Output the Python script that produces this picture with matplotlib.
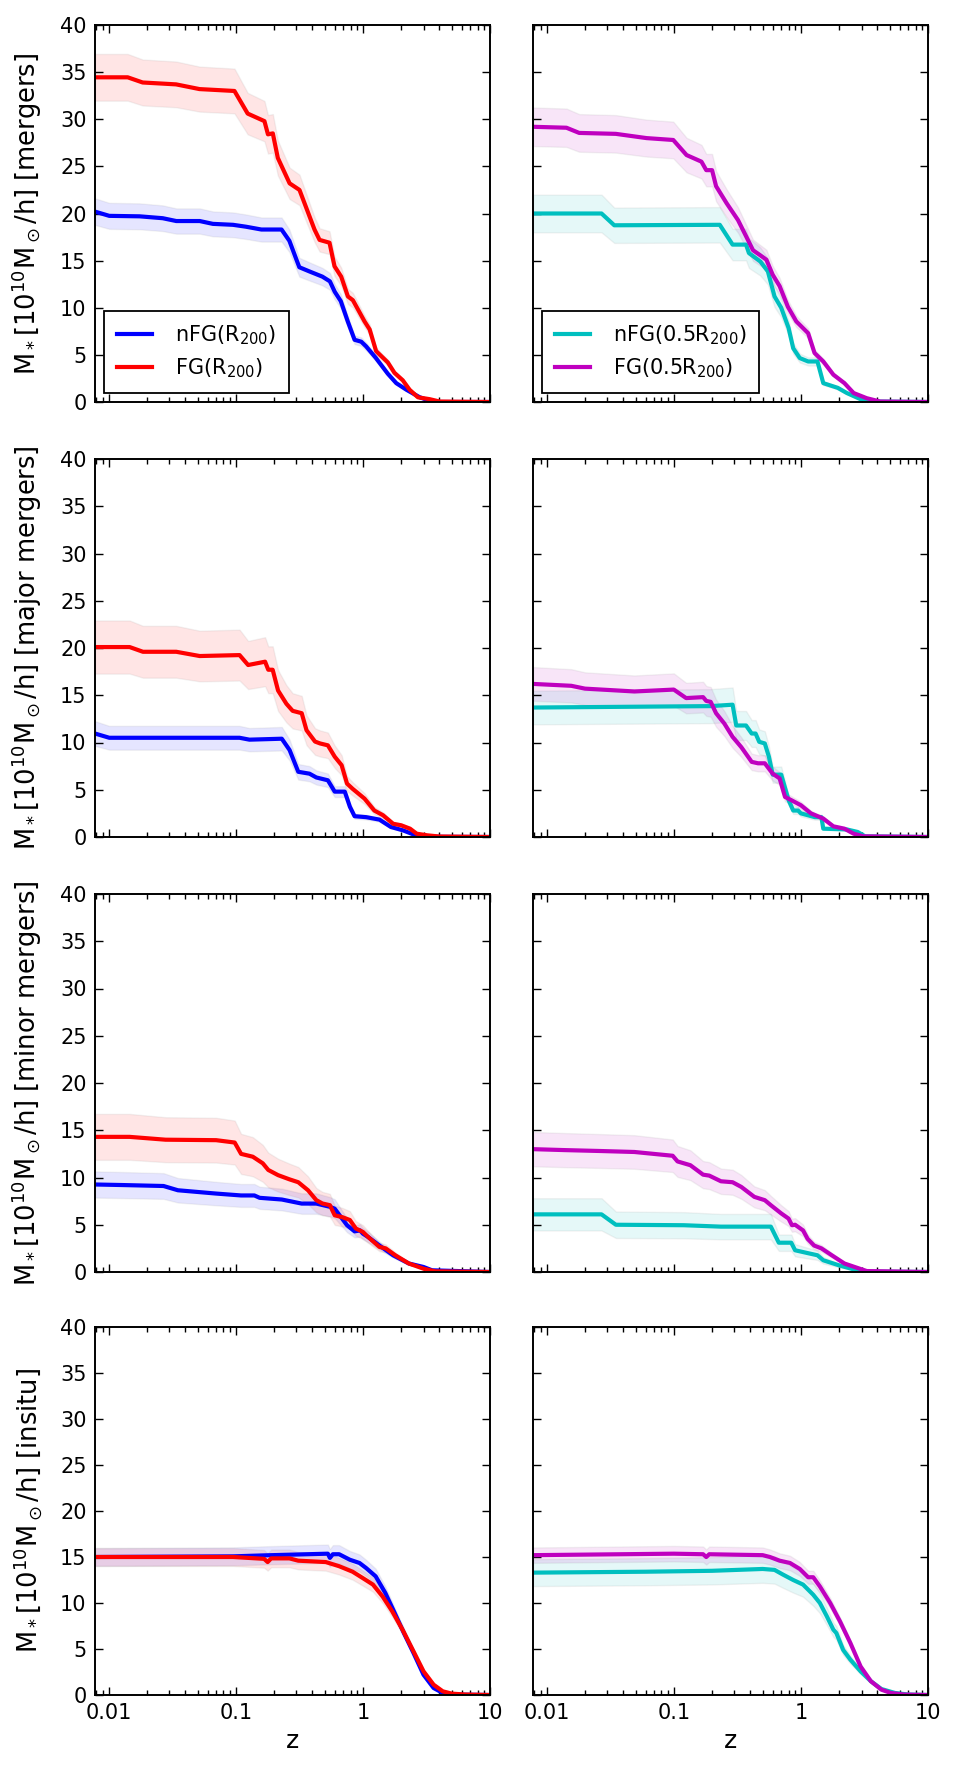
import matplotlib
matplotlib.use("Agg")
import matplotlib.pyplot as plt

plt.rcParams['font.family'] = ['DejaVu Sans']
plt.rcParams['mathtext.fontset'] = 'dejavusans'
plt.rcParams['mathtext.default'] = 'regular'

# ---- data (z, M*) ----
# row 1: all mergers
z_mrg_nfg = [0.0078, 0.0101, 0.0175, 0.0266, 0.034, 0.052, 0.066, 0.095, 0.12, 0.159, 0.229, 0.264, 0.30,
             0.316, 0.38, 0.48, 0.55, 0.60, 0.67, 0.76, 0.86, 0.97, 1.06, 1.26, 1.57, 1.83, 2.2, 2.8, 3.4, 4.0, 10]
m_mrg_nfg = [20.2, 19.75, 19.7, 19.5, 19.2, 19.2, 18.9, 18.8, 18.6, 18.3, 18.3, 17.1, 15.1,
             14.3, 13.85, 13.3, 12.8, 11.7, 10.7, 8.55, 6.6, 6.4, 5.9, 4.7, 3.0, 2.0, 1.3, 0.5, 0.1, 0.0, 0.0]
z_mrg_fg = [0.0078, 0.0141, 0.0185, 0.0339, 0.0518, 0.0976, 0.124, 0.168, 0.179, 0.1955, 0.214, 0.265, 0.317,
            0.416, 0.456, 0.546, 0.598, 0.675, 0.762, 0.834, 1.03, 1.13, 1.27, 1.57, 1.77, 2.06, 2.33, 2.71,
            3.35, 4.02, 10]
m_mrg_fg = [34.45, 34.45, 33.9, 33.7, 33.2, 33.0, 30.6, 29.8, 28.4, 28.5, 25.9, 23.2, 22.5,
            18.3, 17.2, 16.9, 14.4, 13.3, 11.2, 10.8, 8.55, 7.7, 5.4, 4.2, 3.1, 2.3, 1.3, 0.5,
            0.3, 0.05, 0.0]
z_mrg_nfg5 = [0.0078, 0.027, 0.034, 0.23, 0.29, 0.37, 0.39, 0.48, 0.55, 0.62, 0.70, 0.80, 0.87, 0.98,
              1.14, 1.35, 1.5, 1.95, 2.3, 3.0, 3.9, 10]
m_mrg_nfg5 = [20.0, 20.0, 18.75, 18.8, 16.7, 16.7, 15.8, 14.9, 13.85, 11.2, 10.0, 7.85, 5.7, 4.66,
              4.3, 4.3, 2.0, 1.5, 0.95, 0.25, 0.05, 0.0]
z_mrg_fg5 = [0.0078, 0.0143, 0.018, 0.035, 0.061, 0.099, 0.126, 0.165, 0.18, 0.20, 0.215, 0.26, 0.32,
             0.37, 0.42, 0.475, 0.535, 0.60, 0.68, 0.79, 0.92, 1.14, 1.28, 1.5, 1.8, 2.2, 2.6, 3.3, 4.2, 10]
m_mrg_fg5 = [29.2, 29.1, 28.55, 28.45, 28.0, 27.8, 26.2, 25.5, 24.6, 24.6, 22.9, 21.1, 19.3,
             17.6, 16.1, 15.6, 15.1, 13.5, 12.3, 10.1, 8.55, 7.3, 5.2, 4.3, 2.9, 2.0, 0.95, 0.4, 0.05, 0.0]

# row 2: major mergers
z_maj_nfg = [0.0078, 0.0101, 0.107, 0.128, 0.23, 0.265, 0.31, 0.38, 0.43, 0.53, 0.60, 0.72, 0.79, 0.86,
             1.06, 1.35, 1.66, 2.07, 2.6, 3.0, 10]
m_maj_nfg = [10.95, 10.5, 10.5, 10.3, 10.4, 9.2, 6.9, 6.7, 6.3, 6.0, 4.8, 4.8, 3.2, 2.2,
             2.1, 1.84, 1.06, 0.7, 0.18, 0.03, 0.0]
z_maj_fg = [0.0078, 0.0146, 0.0186, 0.034, 0.052, 0.107, 0.125, 0.17, 0.18, 0.195, 0.215, 0.25, 0.28,
            0.33, 0.36, 0.42, 0.46, 0.53, 0.60, 0.68, 0.75, 0.83, 1.03, 1.23, 1.44, 1.73, 2.0, 2.35, 2.65,
            3.2, 4.0, 10]
m_maj_fg = [20.1, 20.1, 19.6, 19.6, 19.15, 19.25, 18.2, 18.55, 17.7, 17.7, 15.5, 14.1, 13.35,
            13.1, 11.3, 10.1, 9.9, 9.7, 8.5, 7.6, 5.65, 5.1, 4.06, 2.8, 2.3, 1.4, 1.24, 0.88, 0.35,
            0.18, 0.05, 0.0]
z_maj_nfg5 = [0.0078, 0.195, 0.29, 0.31, 0.37, 0.41, 0.44, 0.47, 0.52, 0.56, 0.60, 0.70, 0.80, 0.87,
              0.95, 1.0, 1.29, 1.45, 1.5, 2.3, 2.8, 3.2, 10]
m_maj_nfg5 = [13.7, 13.85, 14.0, 11.8, 11.8, 10.95, 10.95, 10.07, 9.9, 8.5, 6.6, 6.6, 3.9, 2.8,
              2.8, 2.5, 2.1, 2.1, 0.88, 0.8, 0.53, 0.07, 0.0]
z_maj_fg5 = [0.0078, 0.0156, 0.02, 0.049, 0.10, 0.125, 0.17, 0.18, 0.195, 0.215, 0.25, 0.29, 0.34,
             0.41, 0.46, 0.52, 0.60, 0.68, 0.75, 0.84, 1.0, 1.2, 1.5, 1.8, 2.2, 2.6, 3.1, 10]
m_maj_fg5 = [16.2, 16.0, 15.7, 15.4, 15.6, 14.7, 14.8, 14.4, 14.3, 13.1, 12.0, 10.6, 9.5,
             7.95, 7.8, 7.8, 6.7, 6.2, 4.24, 3.9, 3.36, 2.5, 1.95, 1.13, 0.88, 0.35, 0.07, 0.0]

# row 3: minor mergers
z_min_nfg = [0.0078, 0.013, 0.027, 0.035, 0.07, 0.11, 0.14, 0.154, 0.23, 0.33, 0.43, 0.55, 0.60, 0.75,
             0.86, 0.95, 1.0, 1.1, 1.35, 1.73, 2.3, 3.0, 3.5, 10]
m_min_nfg = [9.26, 9.2, 9.1, 8.65, 8.3, 8.1, 8.1, 7.85, 7.67, 7.24, 7.24, 6.9, 6.7, 4.95,
             4.3, 4.4, 4.06, 3.7, 2.8, 1.77, 0.9, 0.53, 0.18, 0.0]
z_min_fg = [0.0078, 0.0146, 0.028, 0.07, 0.098, 0.11, 0.136, 0.163, 0.18, 0.215, 0.265, 0.31, 0.37,
            0.43, 0.48, 0.55, 0.60, 0.69, 0.79, 0.88, 1.0, 1.1, 1.35, 1.51, 1.8, 2.3, 3.0, 3.7, 10]
m_min_fg = [14.3, 14.3, 14.0, 13.95, 13.7, 12.5, 12.2, 11.5, 10.8, 10.25, 9.8, 9.5, 8.65,
            7.6, 7.25, 7.07, 6.0, 5.8, 5.5, 4.6, 4.24, 3.7, 2.65, 2.5, 1.77, 0.9, 0.35, 0.07, 0.0]
z_min_nfg5 = [0.0078, 0.027, 0.035, 0.12, 0.235, 0.58, 0.67, 0.84, 0.90, 1.13, 1.35, 1.5, 2.0, 2.65,
              3.1, 10]
m_min_nfg5 = [6.1, 6.1, 5.0, 4.95, 4.8, 4.8, 3.1, 3.1, 2.3, 2.0, 1.77, 1.24, 0.7, 0.25,
              0.05, 0.0]
z_min_fg5 = [0.0078, 0.0138, 0.027, 0.049, 0.098, 0.107, 0.135, 0.17, 0.19, 0.235, 0.29, 0.34, 0.43,
             0.52, 0.58, 0.70, 0.80, 0.85, 0.90, 1.04, 1.13, 1.27, 1.45, 1.75, 2.2, 2.65, 3.3, 10]
m_min_fg5 = [13.0, 12.9, 12.8, 12.7, 12.3, 11.7, 11.3, 10.3, 10.2, 9.6, 9.5, 9.0, 7.95,
             7.6, 7.07, 6.2, 5.65, 4.95, 5.0, 4.4, 3.5, 2.8, 2.5, 1.77, 0.9, 0.53, 0.1, 0.0]

# row 4: in situ
z_ins_nfg = [0.0078, 0.095, 0.17, 0.53, 0.55, 0.58, 0.65, 0.79, 0.94, 1.06, 1.26, 1.5, 1.78, 2.1,
             2.5, 3.0, 3.6, 4.25, 5.0, 10]
m_ins_nfg = [15.0, 15.07, 15.18, 15.36, 14.9, 15.3, 15.3, 14.7, 14.35, 13.8, 12.9, 11.1, 8.9, 6.74,
             4.57, 2.2, 0.76, 0.22, 0.05, 0.0]
z_ins_fg = [0.0078, 0.095, 0.167, 0.178, 0.19, 0.264, 0.31, 0.51, 0.65, 0.83, 1.0, 1.2, 1.43, 1.7,
            2.05, 2.5, 3.0, 3.6, 4.25, 5.0, 6.4, 10]
m_ins_fg = [15.0, 15.0, 14.8, 14.45, 14.85, 14.85, 14.6, 14.45, 14.0, 13.4, 12.7, 12.0, 10.7, 9.1,
            7.1, 4.75, 2.57, 1.12, 0.4, 0.15, 0.05, 0.0]
z_ins_nfg5 = [0.0078, 0.06, 0.2, 0.5, 0.62, 0.72, 0.87, 1.04, 1.25, 1.41, 1.6, 1.8, 1.9, 2.15,
              2.45, 2.95, 3.55, 4.3, 5.5, 7.0, 10]
m_ins_nfg5 = [13.3, 13.4, 13.5, 13.7, 13.6, 13.1, 12.5, 12.0, 10.9, 10.0, 8.55, 7.1, 6.74, 4.9,
              3.84, 2.57, 1.5, 0.65, 0.22, 0.05, 0.0]
z_ins_fg5 = [0.0078, 0.10, 0.17, 0.18, 0.19, 0.50, 0.57, 0.68, 0.82, 0.98, 1.14, 1.25, 1.41, 1.7,
             2.03, 2.45, 2.95, 3.55, 4.3, 5.1, 6.5, 10]
m_ins_fg5 = [15.2, 15.36, 15.3, 15.0, 15.3, 15.2, 15.0, 14.6, 14.35, 13.7, 12.8, 12.8, 11.8, 10.0,
             8.0, 5.65, 3.1, 1.5, 0.58, 0.22, 0.05, 0.0]

# fractional width of the shaded scatter band, per panel / series
band_left = [(0.07, 0.072), (0.12, 0.14), (0.15, 0.17), (0.065, 0.065)]   # (nFG, FG)
band_right = [(0.10, 0.07), (0.13, 0.11), (0.28, 0.14), (0.11, 0.055)]    # (nFG, FG)

row_names = ['mergers', 'major mergers', 'minor mergers', 'insitu']
left_data = [(z_mrg_nfg, m_mrg_nfg, z_mrg_fg, m_mrg_fg),
             (z_maj_nfg, m_maj_nfg, z_maj_fg, m_maj_fg),
             (z_min_nfg, m_min_nfg, z_min_fg, m_min_fg),
             (z_ins_nfg, m_ins_nfg, z_ins_fg, m_ins_fg)]
right_data = [(z_mrg_nfg5, m_mrg_nfg5, z_mrg_fg5, m_mrg_fg5),
              (z_maj_nfg5, m_maj_nfg5, z_maj_fg5, m_maj_fg5),
              (z_min_nfg5, m_min_nfg5, z_min_fg5, m_min_fg5),
              (z_ins_nfg5, m_ins_nfg5, z_ins_fg5, m_ins_fg5)]

W, H = 955.0, 1786.0
fig = plt.figure(figsize=(9.55, 17.86), dpi=100, facecolor='white')

row_tops = [25, 459, 894, 1327]
row_bots = [402, 837, 1272, 1695]
col_lefts = [95, 533]
ax_w = 395


def draw_band(ax, z, m, frac, color):
    lo = [v * (1 - frac) for v in m]
    hi = [v * (1 + frac) for v in m]
    ax.fill_between(z, lo, hi, facecolor=color, alpha=0.1,
                    edgecolor=(0.5, 0.5, 0.5, 0.25), linewidth=1.0)


def style_axis(ax):
    ax.set_xscale('log')
    ax.set_xlim(0.0078, 10)
    ax.set_ylim(0, 40)
    ax.set_yticks([0, 5, 10, 15, 20, 25, 30, 35, 40])
    ax.tick_params(which='both', direction='in', top=True, right=True, labelsize=15, pad=6)
    ax.tick_params(which='major', length=6, width=1.0)
    ax.tick_params(which='minor', length=3.5, width=1.0)
    for s in ax.spines.values():
        s.set_linewidth(1.4)


for i in range(4):
    b = row_bots[i]
    h = row_bots[i] - row_tops[i]
    for j in range(2):
        ax = fig.add_axes([col_lefts[j] / W, 1 - b / H, ax_w / W, h / H])
        style_axis(ax)
        if j == 0:
            zn, mn, zf, mf = left_data[i]
            cn, cf = 'b', 'r'
            fn, ff = band_left[i]
            ln, lf = 'nFG(R$_{200}$)', 'FG(R$_{200}$)'
        else:
            zn, mn, zf, mf = right_data[i]
            cn, cf = 'c', 'm'
            fn, ff = band_right[i]
            ln, lf = 'nFG(0.5R$_{200}$)', 'FG(0.5R$_{200}$)'
        draw_band(ax, zn, mn, fn, cn)
        draw_band(ax, zf, mf, ff, cf)
        ax.plot(zn, mn, color=cn, lw=3.0, label=ln)
        ax.plot(zf, mf, color=cf, lw=3.0, label=lf)

        if i == 0:
            leg = ax.legend(loc='lower left', fontsize=15, fancybox=False, framealpha=1,
                            borderpad=0.6, handlelength=1.7, handletextpad=1.1,
                            borderaxespad=0.45, labelspacing=0.45)
            leg.get_frame().set_edgecolor('black')
            leg.get_frame().set_linewidth(1.3)

        if j == 0:
            ax.set_ylabel(r'M$_*$[10$^{10}$M$_\odot$/h] [' + row_names[i] + ']', fontsize=18.5)
            ax.yaxis.set_label_coords(-0.13, 0.5)
        else:
            ax.set_yticklabels([])

        if i == 3:
            ax.set_xticks([0.01, 0.1, 1, 10])
            ax.set_xticklabels(['0.01', '0.1', '1', '10'])
            ax.set_xlabel('z', fontsize=18)
        else:
            ax.tick_params(which='both', labelbottom=False)

fig.savefig('out.png', dpi=100, facecolor='white')
